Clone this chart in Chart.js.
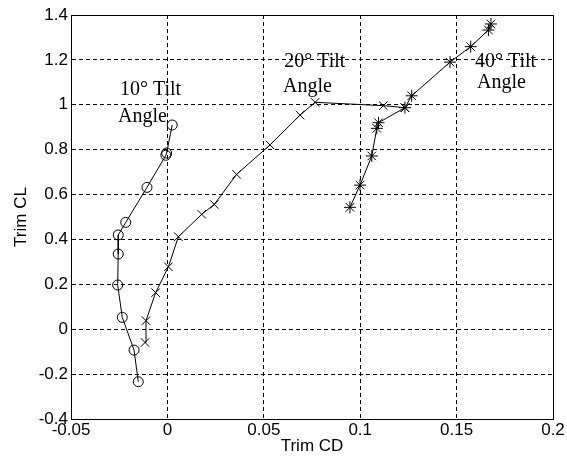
<!DOCTYPE html>
<html>
<head>
<meta charset="utf-8">
<script src="https://cdn.jsdelivr.net/npm/chart.js@4"></script>
<style>
  html, body { margin: 0; padding: 0; background: #fff; }
  #wrap { width: 567px; height: 467px; }
</style>
</head>
<body>
<div id="wrap"><canvas id="trim_plot"></canvas></div>
<script>
// 10 deg tilt (circles)
const tilt10_x = [0.0025, -0.0004, -0.0008, -0.0106, -0.0216, -0.0255, -0.0255, -0.0258, -0.0234, -0.0173, -0.0151];
const tilt10_y = [0.91, 0.785, 0.775, 0.632, 0.476, 0.42, 0.335, 0.197, 0.053, -0.093, -0.234];
// 20 deg tilt (crosses)
const tilt20_x = [-0.0116, -0.0111, -0.0061, 0.0005, 0.0057, 0.0178, 0.0243, 0.0359, 0.0532, 0.0688, 0.0766, 0.112, 0.1232];
const tilt20_y = [-0.059, 0.038, 0.163, 0.278, 0.412, 0.512, 0.556, 0.69, 0.821, 0.954, 1.011, 0.996, 0.987];
// 40 deg tilt (asterisks)
const tilt40_x = [0.0947, 0.0999, 0.106, 0.1086, 0.1095, 0.1232, 0.1267, 0.1466, 0.1573, 0.1665, 0.1678];
const tilt40_y = [0.543, 0.642, 0.772, 0.895, 0.92, 0.987, 1.04, 1.19, 1.259, 1.333, 1.36];

// text labels, in data units
const label_text = ['10° Tilt', 'Angle', '20° Tilt', 'Angle', '40° Tilt', 'Angle'];
const label_x = [-0.0246, -0.0256, 0.0606, 0.0600, 0.1595, 0.1606];
const label_y = [1.066, 0.945, 1.19, 1.079, 1.19, 1.097];

const pts = (xs, ys) => ys.map((y, i) => ({ x: xs[i], y }));
const fmt = v => String(Math.round(v * 100) / 100);

// box round the axes + text labels
const extras = {
    id: 'extras',
    afterDatasetsDraw(chart) {
        const { ctx, chartArea: a, scales } = chart;
        ctx.save();
        ctx.strokeStyle = '#000';
        ctx.lineWidth = 1;
        ctx.setLineDash([]);
        ctx.strokeRect(a.left + 0.5, a.top + 0.5, a.right - a.left, a.bottom - a.top);
        ctx.fillStyle = '#000';
        ctx.font = '20px "Liberation Serif", "Times New Roman", serif';
        ctx.textAlign = 'left';
        ctx.textBaseline = 'middle';
        label_text.forEach((t, i) => {
            ctx.fillText(t, scales.x.getPixelForValue(label_x[i]), scales.y.getPixelForValue(label_y[i]));
        });
        ctx.restore();
    }
};

const axisFont = { family: '"Liberation Sans", Arial, sans-serif', size: 17 };

new Chart(document.getElementById('trim_plot').getContext('2d'), {
    type: 'scatter',
    data: {
        datasets: [{
            label: '10 deg',
            data: pts(tilt10_x, tilt10_y),
            showLine: true,
            borderColor: '#000',
            borderWidth: 1,
            pointStyle: 'circle',
            pointRadius: 5,
            pointBorderColor: '#000',
            pointBackgroundColor: 'rgba(0,0,0,0)',
            pointBorderWidth: 1
        }, {
            label: '20 deg',
            data: pts(tilt20_x, tilt20_y),
            showLine: true,
            borderColor: '#000',
            borderWidth: 1,
            pointStyle: 'crossRot',
            pointRadius: 6,
            pointBorderColor: '#000',
            pointBorderWidth: 1
        }, {
            label: '40 deg',
            data: pts(tilt40_x, tilt40_y),
            showLine: true,
            borderColor: '#000',
            borderWidth: 1,
            pointStyle: 'star',
            pointRadius: 6,
            pointBorderColor: '#000',
            pointBorderWidth: 1
        }]
    },
    options: {
        responsive: true,
        maintainAspectRatio: false,
        animation: false,
        layout: { padding: { top: 15, right: 14, left: 0, bottom: 0 } },
        plugins: {
            legend: { display: false },
            tooltip: { enabled: false }
        },
        scales: {
            x: {
                type: 'linear',
                min: -0.05,
                max: 0.2,
                afterFit: s => { s.height = 48; },
                ticks: { stepSize: 0.05, color: '#000', font: axisFont, padding: 1, maxRotation: 0, callback: fmt },
                grid: { color: '#000', lineWidth: 1, drawTicks: false },
                border: { display: true, color: '#000', dash: [4, 3] },
                title: { display: true, text: 'Trim CD', color: '#000', font: axisFont, padding: { bottom: 10 } }
            },
            y: {
                type: 'linear',
                min: -0.4,
                max: 1.4,
                afterFit: s => { s.width = 71; },
                ticks: { stepSize: 0.2, color: '#000', font: axisFont, padding: 3, callback: fmt },
                grid: { color: '#000', lineWidth: 1, drawTicks: false },
                border: { display: true, color: '#000', dash: [4, 3] },
                title: { display: true, text: 'Trim CL', color: '#000', font: axisFont, padding: { top: 11 } }
            }
        }
    },
    plugins: [extras]
});
</script>
</body>
</html>
